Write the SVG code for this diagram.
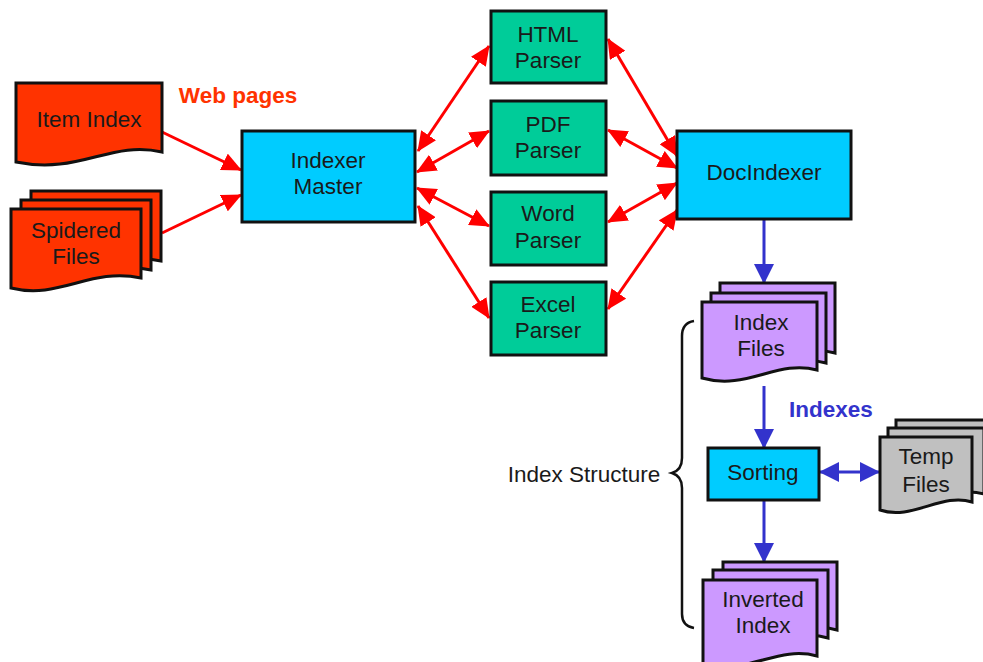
<svg xmlns="http://www.w3.org/2000/svg" width="983" height="662" viewBox="0 0 983 662">
<defs>
<style>
.box{stroke:#111;stroke-width:3}
.cyan{fill:#00CCFF}
.green{fill:#00CC99}
.red{fill:#FF3300}
.purple{fill:#CC99FF}
.gray{fill:#C0C0C0}
.doc{stroke:#111;stroke-width:3;stroke-linejoin:miter}
text{font-family:"Liberation Sans",Arial,sans-serif;font-size:22.5px;fill:#1a1a1a;text-anchor:middle}
.lbl{font-weight:bold}
.rl{stroke:#FF0000;stroke-width:3;fill:none}
.bl{stroke:#3333CC;stroke-width:3;fill:none}
</style>
<marker id="ra" viewBox="0 0 20 18" refX="19" refY="9" markerWidth="20" markerHeight="18" markerUnits="userSpaceOnUse" orient="auto-start-reverse"><path d="M0,0 L20,9 L0,18 Z" fill="#FF0000"/></marker>
<marker id="ba" viewBox="0 0 20 20" refX="19" refY="10" markerWidth="20" markerHeight="20" markerUnits="userSpaceOnUse" orient="auto-start-reverse"><path d="M0,0 L20,10 L0,20 Z" fill="#3333CC"/></marker>
</defs>
<rect width="983" height="662" fill="#fff"/>

<g id="connectors">
<line class="rl" x1="162" y1="132" x2="241" y2="170" marker-end="url(#ra)"/>
<line class="rl" x1="162" y1="233" x2="241" y2="195" marker-end="url(#ra)"/>
<line class="rl" x1="418" y1="151" x2="489" y2="46" marker-start="url(#ra)" marker-end="url(#ra)"/>
<line class="rl" x1="417" y1="172" x2="489" y2="131" marker-start="url(#ra)" marker-end="url(#ra)"/>
<line class="rl" x1="417" y1="188" x2="489" y2="226" marker-start="url(#ra)" marker-end="url(#ra)"/>
<line class="rl" x1="418" y1="206" x2="489" y2="318" marker-start="url(#ra)" marker-end="url(#ra)"/>
<line class="rl" x1="608" y1="39" x2="677" y2="156" marker-start="url(#ra)" marker-end="url(#ra)"/>
<line class="rl" x1="608" y1="130" x2="677" y2="168" marker-start="url(#ra)" marker-end="url(#ra)"/>
<line class="rl" x1="608" y1="222" x2="677" y2="183" marker-start="url(#ra)" marker-end="url(#ra)"/>
<line class="rl" x1="608" y1="309" x2="677" y2="210" marker-start="url(#ra)" marker-end="url(#ra)"/>
<line class="bl" x1="764" y1="219" x2="764" y2="283" marker-end="url(#ba)"/>
<line class="bl" x1="764" y1="386" x2="764" y2="448" marker-end="url(#ba)"/>
<line class="bl" x1="764" y1="500" x2="764" y2="562" marker-end="url(#ba)"/>
<line class="bl" x1="820" y1="472" x2="879" y2="472" marker-start="url(#ba)" marker-end="url(#ba)"/>
</g>

<g id="item-index">
<path class="doc red" d="M16,83 H162 V152 C110,140 80,175 16,162 Z"/>
<text x="89" y="127">Item Index</text>
</g>

<g id="spidered-files">
<path class="doc red" d="M31,191 H161 V261 C110,250 80,283 31,271 Z"/>
<path class="doc red" d="M21,200 H151 V270 C100,259 70,292 21,280 Z"/>
<path class="doc red" d="M11,209 H141 V278 C90,267 60,300 11,288 Z"/>
<text x="76" y="238">Spidered</text>
<text x="76" y="264">Files</text>
</g>

<text class="lbl" x="238" y="103" style="fill:#FF3300">Web pages</text>

<g id="indexer-master">
<rect class="box cyan" x="242" y="131" width="173" height="91"/>
<text x="328" y="168">Indexer</text>
<text x="328" y="194">Master</text>
</g>

<g id="html-parser">
<rect class="box green" x="491" y="11" width="115" height="72"/>
<text x="548" y="42">HTML</text>
<text x="548" y="68">Parser</text>
</g>
<g id="pdf-parser">
<rect class="box green" x="491" y="101" width="115" height="74"/>
<text x="548" y="132">PDF</text>
<text x="548" y="158">Parser</text>
</g>
<g id="word-parser">
<rect class="box green" x="491" y="192" width="115" height="73"/>
<text x="548" y="221">Word</text>
<text x="548" y="248">Parser</text>
</g>
<g id="excel-parser">
<rect class="box green" x="491" y="282" width="115" height="73"/>
<text x="548" y="312">Excel</text>
<text x="548" y="338">Parser</text>
</g>

<g id="docindexer">
<rect class="box cyan" x="677" y="131" width="174" height="88"/>
<text x="764" y="180">DocIndexer</text>
</g>

<g id="index-files">
<path class="doc purple" d="M720,283 H835 V353 C795,342 765,372 720,360 Z"/>
<path class="doc purple" d="M711,293 H826 V363 C786,352 756,382 711,370 Z"/>
<path class="doc purple" d="M702,302 H817 V370 C777,359 747,391 702,378 Z"/>
<text x="761" y="330">Index</text>
<text x="761" y="356">Files</text>
</g>

<text class="lbl" x="831" y="417" style="fill:#3333CC">Indexes</text>

<g id="sorting">
<rect class="box cyan" x="708" y="448" width="111" height="52"/>
<text x="763" y="480">Sorting</text>
</g>

<g id="temp-files">
<path class="doc gray" d="M896,420 H992 V486 C960,476 930,505 896,494 Z"/>
<path class="doc gray" d="M888,428 H984 V494 C952,484 922,513 888,502 Z"/>
<path class="doc gray" d="M880,437 H972 V502 C942,492 912,521 880,510 Z"/>
<text x="926" y="464">Temp</text>
<text x="926" y="492">Files</text>
</g>

<g id="inverted-index">
<path class="doc purple" d="M723,562 H837 V630 C797,619 767,650 723,638 Z"/>
<path class="doc purple" d="M713,570 H828 V638 C788,627 758,658 713,646 Z"/>
<path class="doc purple" d="M703,580 H817 V656 C777,645 747,676 703,664 Z"/>
<text x="763" y="607">Inverted</text>
<text x="763" y="633">Index</text>
</g>

<g id="index-structure">
<path d="M694,321 Q682,323 682,336 V458 Q682,470 672,473 Q682,476 682,488 V614 Q682,626 694,628" fill="none" stroke="#111" stroke-width="2.5"/>
<text x="584" y="482">Index Structure</text>
</g>
</svg>
